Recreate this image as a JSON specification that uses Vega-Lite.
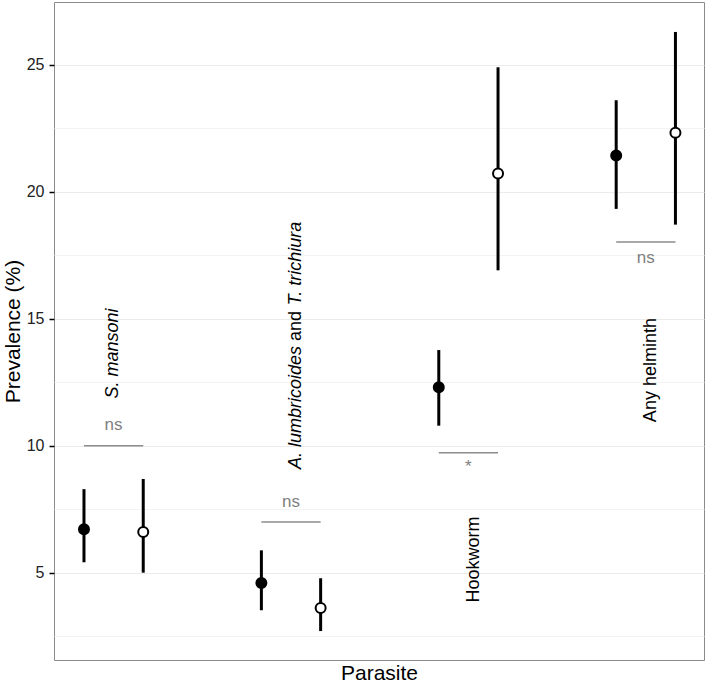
{
  "$schema": "https://vega.github.io/schema/vega-lite/v6.json",
  "width": 650,
  "height": 658,
  "autosize": "none",
  "padding": {"left": 54, "top": 2, "right": 5, "bottom": 24},
  "config": {
    "font": "Liberation Sans",
    "view": {"stroke": "#8a8a8a", "strokeWidth": 1}
  },
  "datasets": {
    "points": [
      {"parasite": "S. mansoni", "group": "A", "x": 0.833, "prev": 6.71, "lo": 5.41, "hi": 8.29},
      {"parasite": "S. mansoni", "group": "B", "x": 1.167, "prev": 6.6, "lo": 5.0, "hi": 8.69},
      {"parasite": "A. lumbricoides and T. trichiura", "group": "A", "x": 1.833, "prev": 4.59, "lo": 3.52, "hi": 5.88},
      {"parasite": "A. lumbricoides and T. trichiura", "group": "B", "x": 2.167, "prev": 3.61, "lo": 2.7, "hi": 4.78},
      {"parasite": "Hookworm", "group": "A", "x": 2.833, "prev": 12.3, "lo": 10.79, "hi": 13.77},
      {"parasite": "Hookworm", "group": "B", "x": 3.167, "prev": 20.72, "lo": 16.91, "hi": 24.91},
      {"parasite": "Any helminth", "group": "A", "x": 3.833, "prev": 21.43, "lo": 19.33, "hi": 23.61},
      {"parasite": "Any helminth", "group": "B", "x": 4.167, "prev": 22.33, "lo": 18.71, "hi": 26.3}
    ],
    "sig": [
      {"parasite": "S. mansoni", "x1": 0.833, "x2": 1.167, "xc": 1.0, "ly": 10.0, "ty": 10.82, "label": "ns"},
      {"parasite": "A. lumbricoides and T. trichiura", "x1": 1.833, "x2": 2.167, "xc": 2.0, "ly": 7.0, "ty": 7.8, "label": "ns"},
      {"parasite": "Hookworm", "x1": 2.833, "x2": 3.167, "xc": 3.0, "ly": 9.72, "ty": 9.15, "label": "*"},
      {"parasite": "Any helminth", "x1": 3.833, "x2": 4.167, "xc": 4.0, "ly": 18.03, "ty": 17.4, "label": "ns"}
    ],
    "labels_italic": [
      {"text": "S. mansoni", "x": 1.026, "y": 13.63},
      {"text": "A. lumbricoides", "x": 2.056, "y": 11.51},
      {"text": "T. trichiura", "x": 2.056, "y": 17.18}
    ],
    "labels_plain": [
      {"text": "and", "x": 2.056, "y": 14.72},
      {"text": "Hookworm", "x": 3.061, "y": 5.52},
      {"text": "Any helminth", "x": 4.055, "y": 12.98}
    ]
  },
  "layer": [
    {
      "data": {"name": "points"},
      "mark": {"type": "rule", "strokeWidth": 3, "color": "black"},
      "encoding": {
        "x": {"field": "x", "type": "quantitative", "scale": {"domain": [0.664, 4.328], "nice": false, "zero": false},
              "axis": {"title": "Parasite", "labels": false, "ticks": false, "domain": false, "grid": false,
                       "titleFontSize": 21, "titleFontWeight": "normal", "titleColor": "black", "titlePadding": 2}},
        "y": {"field": "lo", "type": "quantitative", "scale": {"domain": [1.56, 27.48], "nice": false, "zero": false},
              "axis": {"title": "Prevalence (%)",
                       "values": [2.5, 5, 7.5, 10, 12.5, 15, 17.5, 20, 22.5, 25],
                       "labelExpr": "datum.value % 5 === 0 ? datum.label : ''",
                       "domain": false,
                       "tickColor": "black", "tickWidth": 1.5, "tickSize": 5,
                       "tickOpacity": {"condition": {"test": "datum.value % 5 !== 0", "value": 0}, "value": 1},
                       "gridColor": {"condition": {"test": "datum.value % 5 === 0", "value": "#ebebeb"}, "value": "#f3f3f3"},
                       "gridWidth": 1,
                       "labelFontSize": 16, "labelColor": "#222222", "labelPadding": 5,
                       "titleFontSize": 21, "titleFontWeight": "normal", "titleColor": "black", "titlePadding": 3}},
        "y2": {"field": "hi"}
      }
    },
    {
      "data": {"name": "points"},
      "mark": {"type": "point", "shape": "circle", "filled": true, "stroke": "black", "strokeWidth": 2, "size": 100, "opacity": 1},
      "encoding": {
        "x": {"field": "x", "type": "quantitative", "title": "Parasite"},
        "y": {"field": "prev", "type": "quantitative", "title": "Prevalence (%)"},
        "fill": {"field": "group", "type": "nominal", "scale": {"domain": ["A", "B"], "range": ["black", "white"]}, "legend": null}
      }
    },
    {
      "data": {"name": "sig"},
      "mark": {"type": "rule", "strokeWidth": 1.5, "color": "#8c8c8c"},
      "encoding": {
        "x": {"field": "x1", "type": "quantitative", "title": "Parasite"},
        "x2": {"field": "x2"},
        "y": {"field": "ly", "type": "quantitative", "title": "Prevalence (%)"}
      }
    },
    {
      "data": {"name": "sig"},
      "mark": {"type": "text", "fontSize": 17, "color": "#7f7f7f", "baseline": "middle", "align": "center"},
      "encoding": {
        "x": {"field": "xc", "type": "quantitative", "title": "Parasite"},
        "y": {"field": "ty", "type": "quantitative", "title": "Prevalence (%)"},
        "text": {"field": "label"}
      }
    },
    {
      "data": {"name": "labels_italic"},
      "mark": {"type": "text", "fontSize": 18, "fontStyle": "italic", "color": "black", "angle": 270, "baseline": "alphabetic", "align": "center"},
      "encoding": {
        "x": {"field": "x", "type": "quantitative", "title": "Parasite"},
        "y": {"field": "y", "type": "quantitative", "title": "Prevalence (%)"},
        "text": {"field": "text"}
      }
    },
    {
      "data": {"name": "labels_plain"},
      "mark": {"type": "text", "fontSize": 18, "color": "black", "angle": 270, "baseline": "alphabetic", "align": "center"},
      "encoding": {
        "x": {"field": "x", "type": "quantitative", "title": "Parasite"},
        "y": {"field": "y", "type": "quantitative", "title": "Prevalence (%)"},
        "text": {"field": "text"}
      }
    }
  ]
}
